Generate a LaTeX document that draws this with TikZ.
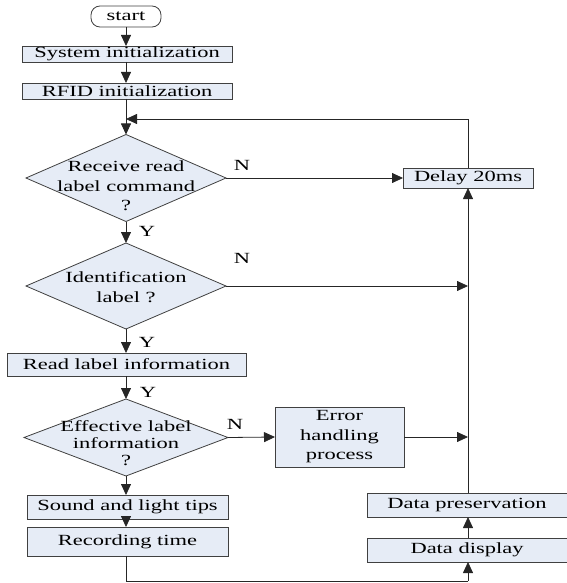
\documentclass[tikz,border=0pt]{standalone}
\usepackage{fontspec}
\setmainfont[FakeStretch=1.45]{Liberation Serif}
\usetikzlibrary{shapes.geometric,arrows.meta}
\definecolor{boxfill}{HTML}{E6ECF6}
\definecolor{boxline}{HTML}{404040}
\tikzset{
  base/.style={draw=boxline, line width=0.8pt, fill=boxfill, inner sep=0pt, outer sep=0pt,
    font=\fontsize{15.5}{19}\selectfont, align=center},
  procbox/.style={base, rectangle},
  decision/.style={base, diamond},
  terminal/.style={base, fill=white, rounded corners=9pt},
  txt/.style={inner sep=0pt, align=center},
  flow/.style={line width=0.8pt, draw=black!85, -{Triangle[length=11pt,width=10pt]}},
  plain/.style={line width=0.8pt, draw=black!85},
  yn/.style={inner sep=0pt, font=\fontsize{15.5}{19}\selectfont}
}
\begin{document}
\begin{tikzpicture}[x=1pt, y=-1pt]
\useasboundingbox (0,0) rectangle (566,583);

% main column
\node[terminal, minimum width=70pt, minimum height=21pt] (start) at (126,16.5) {start};
\node[procbox, minimum width=210pt, minimum height=16pt] (sys) at (127,54) {System initialization};
\node[procbox, minimum width=210pt, minimum height=16pt] (rfid) at (127,91) {RFID initialization};
\node[decision, minimum width=200pt, minimum height=87pt] (d1) at (126,178) {};
\node[txt, font=\fontsize{15.5}{19.5}\selectfont] (t1) at (126,186) {Receive read\\label command\\?};
\node[decision, minimum width=200pt, minimum height=86pt] (d2) at (126,286) {};
\node[txt, font=\fontsize{15.5}{20}\selectfont] (t2) at (126,287) {Identification\\label ?};
\node[procbox, minimum width=239pt, minimum height=23pt] (read) at (126.5,364.5) {Read label information};
\node[decision, minimum width=204pt, minimum height=77pt] (d3) at (126,437.5) {};
\node[txt, font=\fontsize{15.5}{17}\selectfont] (t3) at (126,443) {Effective label\\information\\?};
\node[procbox, minimum width=201pt, minimum height=24pt] (sound) at (127.5,507) {Sound and light tips};
\node[procbox, minimum width=201pt, minimum height=29pt] (rec) at (127.5,541.5) {Recording time};

% right column
\node[procbox, minimum width=130pt, minimum height=20pt] (delay) at (468,178) {Delay 20ms};
\node[procbox, minimum width=129pt, minimum height=60pt, font=\fontsize{15.5}{19.5}\selectfont] (err) at (339.5,437) {Error\\handling\\process};
\node[procbox, minimum width=200pt, minimum height=24pt] (pres) at (467,505) {Data preservation};
\node[procbox, minimum width=200pt, minimum height=24pt] (disp) at (467,550) {Data display};

% junction points
\coordinate (loopTR) at (468,119);
\coordinate (loopL) at (126,119);
\coordinate (j2) at (468,286);
\coordinate (j3) at (468,437);
\coordinate (botL) at (126,581);
\coordinate (botR) at (468,581);

% main flow
\draw[flow] (start.south -| 126,0) -- (126,46);
\draw[flow] (126,62) -- (126,83);
\draw[flow] (126,99) -- (d1.north);
\draw[flow] (d1.south) -- (d2.north);
\draw[flow] (d2.south) -- (126,353);
\draw[flow] (126,376) -- (d3.north);
\draw[flow] (d3.south) -- (126,495);
\draw[flow] (126,519) -- (126,527);

% N branches
\draw[flow] (d1.east) -- (delay.west);
\draw[flow] (d2.east) -- (j2);
\draw[flow] (d3.east) -- (err.west);
\draw[flow] (err.east) -- (j3);

% return path
\draw[plain] (rec.south -| 126,0) -- (botL) -- (botR);
\draw[flow] (botR) -- (disp.south -| 468,0);
\draw[flow] (disp.north -| 468,0) -- (pres.south -| 468,0);
\draw[flow] (pres.north -| 468,0) -- (delay.south -| 468,0);
\draw[plain] (delay.north -| 468,0) -- (loopTR);
\draw[flow] (loopTR) -- (loopL);

% branch labels
\node[yn] (n1) at (242,165) {N};
\node[yn] (n2) at (242,258) {N};
\node[yn] (n3) at (235,424) {N};
\node[yn] (y1) at (147,231) {Y};
\node[yn] (y2) at (147,342) {Y};
\node[yn] (y3) at (148,392) {Y};
\end{tikzpicture}
\end{document}
